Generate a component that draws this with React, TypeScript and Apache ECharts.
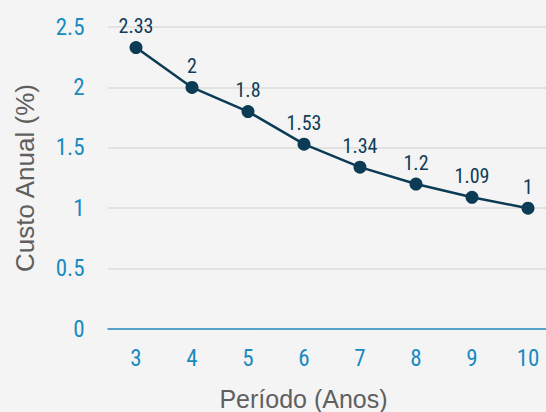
import React, { useEffect, useRef } from "react";
import * as echarts from "echarts";

const categories = ["3", "4", "5", "6", "7", "8", "9", "10"];
const values = [2.33, 2, 1.8, 1.53, 1.34, 1.2, 1.09, 1];
const yTicks = [0, 0.5, 1, 1.5, 2, 2.5];

const condensed = "'Roboto Condensed', 'Liberation Sans Narrow', 'DejaVu Sans Condensed', Roboto, sans-serif";
const titleFont = "'Liberation Sans', Arial, sans-serif";

export default function App() {
  const ref = useRef<HTMLDivElement>(null);
  useEffect(() => {
    const chart = echarts.init(ref.current!, null, { renderer: "svg" });
    chart.setOption({
      animation: false,
      backgroundColor: "#f4f4f4",
      grid: { left: 108, width: 448, top: 27, height: 302, containLabel: false, outerBoundsMode: "none" },
      xAxis: {
        type: "category",
        data: categories,
        boundaryGap: true,
        name: "Período (Anos)",
        nameLocation: "middle",
        nameGap: 58,
        nameTextStyle: {
          fontFamily: titleFont,
          fontSize: 25,
          lineHeight: 24,
          color: "#5f5f5f",
          padding: [0, 57, 0, 0],
        },
        axisLine: { lineStyle: { color: "#2a8cbf", width: 1.5 } },
        axisTick: { show: false },
        axisLabel: { fontFamily: condensed, fontSize: 23, color: "#1a8bc0", margin: 18 },
      },
      yAxis: {
        type: "value",
        min: 0,
        max: 2.5,
        interval: 0.5,
        name: "Custo Anual (%)",
        nameLocation: "middle",
        nameGap: 70,
        nameTextStyle: { fontFamily: titleFont, fontSize: 26, color: "#5f5f5f" },
        axisLine: { show: false },
        axisTick: { show: false },
        splitLine: { lineStyle: { color: "#dcdcdc", width: 1.5 } },
        axisLabel: {
          fontFamily: condensed,
          fontSize: 23,
          color: "#1a8bc0",
          margin: 23.5,
          formatter: (v: number) => (yTicks.includes(v) ? String(v) : ""),
        },
      },
      series: [
        {
          type: "line",
          data: values,
          symbol: "circle",
          symbolSize: 13,
          itemStyle: { color: "#0b3b55" },
          lineStyle: { color: "#0b3b55", width: 2.5 },
          label: {
            show: true,
            position: "top",
            distance: 5,
            fontFamily: condensed,
            fontSize: 20,
            color: "#0f3d57",
          },
        },
      ],
    });
    return () => chart.dispose();
  }, []);
  return <div ref={ref} style={{ width: 546, height: 412, position: "absolute", left: 0, top: 0 }} />;
}
